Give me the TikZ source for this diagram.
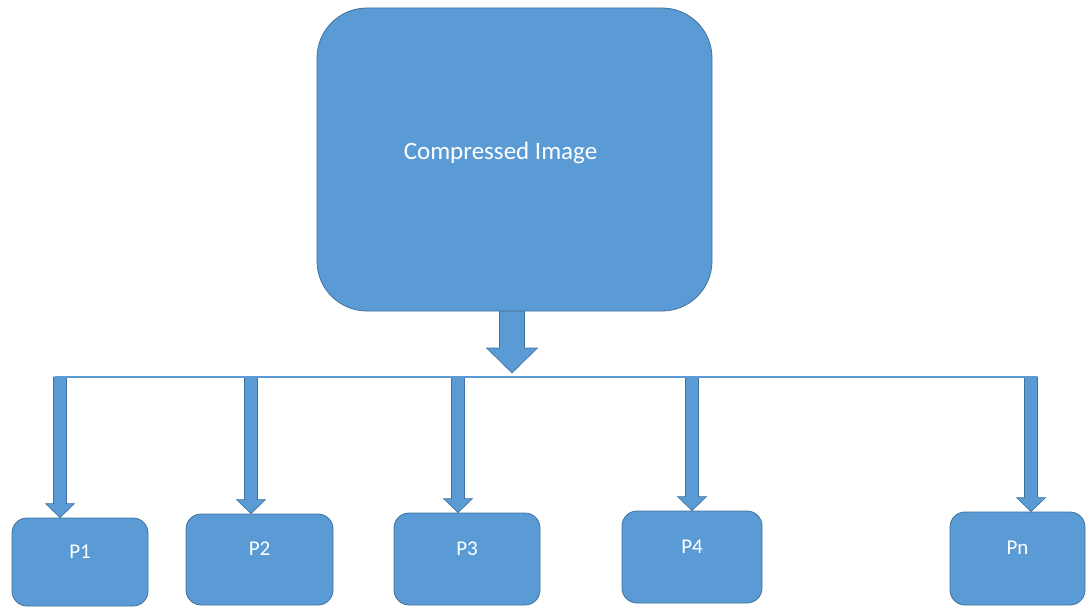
\documentclass[tikz,border=0pt]{standalone}
\usepackage{fontspec}
\setmainfont{Carlito}
\usetikzlibrary{calc}
\definecolor{boxblue}{HTML}{5B9BD5}
\definecolor{boxedge}{HTML}{41719C}
\tikzset{
  block/.style={draw=boxedge, fill=boxblue, line width=0.8pt, text=white, inner sep=0pt},
  pbox/.style={block, rounded corners=15pt, font=\fontsize{21}{24}\selectfont, text height=14pt, text depth=22pt},
  fatbody/.style={draw=boxedge, fill=boxblue, line width=0.6pt},
  bus/.style={draw=boxblue, line width=2pt},
}
% #1 from, #2 to, #3 half shaft, #4 half head, #5 head length
\newcommand{\fatdown}[5]{%
  \filldraw[fatbody] ($(#1)+(-#3,0)$) -- ($(#2)+(-#3,-#5)$) -- ($(#2)+(-#4,-#5)$) -- (#2)
    -- ($(#2)+(#4,-#5)$) -- ($(#2)+(#3,-#5)$) -- ($(#1)+(#3,0)$) -- cycle;}
\begin{document}
\begin{tikzpicture}[x=1pt,y=-1pt]
  \useasboundingbox (0,0) rectangle (1086,607);
  % compressed image
  \node[block, rounded corners=50pt, minimum width=395pt, minimum height=303pt,
    font=\fontsize{25}{28}\selectfont, text height=16pt, text depth=16pt] (img) at (514.5,159.5) {Compressed Image\hspace*{28pt}};
  % partitions
  \node[pbox, minimum width=136pt, minimum height=88pt] (p1) at (80,562) {P1};
  \node[pbox, minimum width=147pt, minimum height=91pt] (p2) at (259.5,559.5) {P2};
  \node[pbox, minimum width=146pt, minimum height=92pt] (p3) at (467,559) {P3};
  \node[pbox, minimum width=140pt, minimum height=92pt] (p4) at (692,557) {P4};
  \node[pbox, minimum width=135pt, minimum height=93pt] (pn) at (1017.5,558.5) {Pn};
  % split line
  \coordinate (bl) at (55,377);
  \coordinate (br) at (1037,377);
  \coordinate (hub) at (512,373);
  \coordinate (top) at (img.south -| hub);
  \coordinate (t1) at (60,377);
  \coordinate (t2) at (251,377);
  \coordinate (t3) at (458,377);
  \coordinate (t4) at (692,377);
  \coordinate (tn) at (1031,377);
  \coordinate (e1) at (t1 |- p1.north);
  \coordinate (e2) at (t2 |- p2.north);
  \coordinate (e3) at (t3 |- p3.north);
  \coordinate (e4) at (t4 |- p4.north);
  \coordinate (en) at (tn |- pn.north);
  \fatdown{top}{hub}{12.5}{25.5}{25}
  \fatdown{t1}{e1}{6.5}{14.5}{14}
  \fatdown{t2}{e2}{6.5}{14.5}{14}
  \fatdown{t3}{e3}{6.5}{14.5}{14}
  \fatdown{t4}{e4}{6.5}{14.5}{14}
  \fatdown{tn}{en}{6.5}{14.5}{14}
  \draw[bus] (bl) -- (br);
\end{tikzpicture}
\end{document}
